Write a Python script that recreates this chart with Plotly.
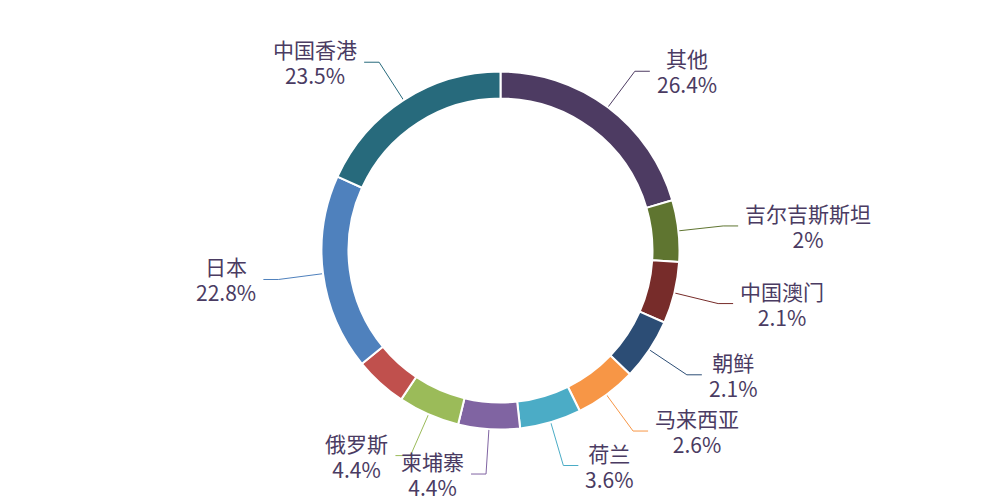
import math
import plotly.graph_objects as go

# ---- data (clockwise from 12 o'clock) ----
names = ["其他", "吉尔吉斯斯坦", "中国澳门", "朝鲜", "马来西亚", "荷兰",
         "柬埔寨", "俄罗斯", "未标注", "日本", "中国香港"]
shares = [26.4, 2.0, 2.1, 2.1, 2.6, 3.6, 4.4, 4.4, 6.1, 22.8, 23.5]
label_shown = [True, True, True, True, True, True, True, True, False, True, True]
colors = ["#4d3b62", "#5f7530", "#772c2a", "#2c4d75", "#f79646", "#4bacc6",
          "#8064a2", "#9bbb59", "#c0504d", "#4f81bd", "#276a7c"]

# ---- style / layout constants ----
W, H = 1000, 500
CX, CY = 500.5, 250.5
R_OUT, R_IN = 179, 152
MIN_ANGLE = 20.0
LEN1, LEN2, GAP = 45, 15, 6
TEXT_COLOR = "#4a3b62"
FONT = "Noto Sans CJK SC, Microsoft YaHei, sans-serif"

# ECharts-like minAngle layout of slice angles (degrees)
total = sum(shares)
rest = 360.0
big_sum = 0.0
clamped = []
for v in shares:
    a = v / total * 360.0
    if a < MIN_ANGLE:
        clamped.append(True)
        rest -= MIN_ANGLE
    else:
        clamped.append(False)
        big_sum += v
angles = [MIN_ANGLE if c else v * rest / big_sum for v, c in zip(shares, clamped)]

fig = go.Figure()

# pixel-space overlay axes for leader lines and labels
fig.update_layout(
    xaxis=dict(range=[0, W], visible=False, domain=[0, 1], fixedrange=True),
    yaxis=dict(range=[H, 0], visible=False, domain=[0, 1], fixedrange=True),
)

fig.add_trace(go.Pie(
    labels=names,
    values=angles,
    customdata=shares,
    sort=False,
    direction="clockwise",
    rotation=0,
    hole=R_IN / R_OUT,
    marker=dict(colors=colors, line=dict(color="white", width=2)),
    textinfo="none",
    hovertemplate="%{label}: %{customdata}%<extra></extra>",
    domain=dict(x=[(CX - R_OUT) / W, (CX + R_OUT) / W],
                y=[(H - CY - R_OUT) / H, (H - CY + R_OUT) / H]),
    showlegend=False,
))

start = 0.0
annotations = []
for name, v, a, col, show in zip(names, shares, angles, colors, label_shown):
    mid = math.radians(start + a / 2)
    start += a
    if not show:
        continue
    dx, dy = math.sin(mid), -math.cos(mid)
    x0, y0 = CX + R_OUT * dx, CY + R_OUT * dy
    x1, y1 = x0 + LEN1 * dx, y0 + LEN1 * dy
    side = 1 if dx >= 0 else -1
    x2, y2 = x1 + side * LEN2, y1
    fig.add_trace(go.Scatter(
        x=[x0, x1, x2], y=[y0, y1, y2], mode="lines",
        line=dict(color=col, width=1), hoverinfo="skip", showlegend=False,
    ))
    annotations.append(dict(
        x=x2 + side * GAP, y=y2, xref="x", yref="y",
        xanchor="left" if side > 0 else "right", yanchor="middle",
        align="center", showarrow=False, borderpad=0,
        text=f'<span style="font-size:21px">{name}</span><br>'
             f'<span style="font-size:21px">{v:g}%</span>',
        font=dict(family=FONT, size=20, color=TEXT_COLOR),
    ))

fig.update_layout(
    width=W, height=H,
    margin=dict(l=0, r=0, t=0, b=0),
    paper_bgcolor="white", plot_bgcolor="white",
    annotations=annotations,
)

fig.write_html("out.html")
